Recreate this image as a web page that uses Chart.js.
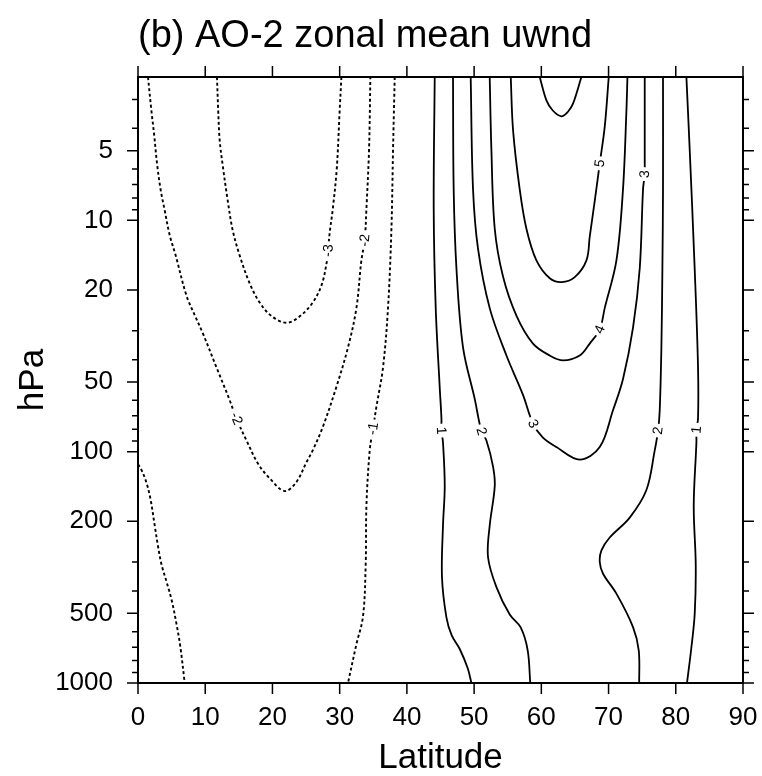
<!DOCTYPE html>
<html>
<head>
<meta charset="utf-8">
<title>AO-2 zonal mean uwnd</title>
<script src="https://cdn.jsdelivr.net/npm/chart.js@4.4.0/dist/chart.umd.min.js"></script>
<style>
  html, body { margin: 0; padding: 0; background: #ffffff; }
  #wrap { width: 762px; height: 776px; }
  canvas { display: block; }
</style>
</head>
<body>
<div id="wrap"><canvas id="chart" width="762" height="776"></canvas></div>
<script>
// Axis ticks
const latitudeTicks = [0, 10, 20, 30, 40, 50, 60, 70, 80, 90];
const pressureLabelTicks = [5, 10, 20, 50, 100, 200, 500, 1000];
const pressureMinorTicks = [3, 4, 6, 7, 8, 9, 30, 40, 60, 70, 80, 90, 300, 400, 600, 700, 800, 900];
const pressureTop = 2.4;
const pressureBottom = 1000;

// Contour lines of zonal-mean zonal wind, as [latitude, hPa] pairs
const uMinus3 = [[11.75,2.4],[11.93,3.35],[12.15,4.5],[12.6,5.78],[13.34,8.19],[14.09,11.05],[15.13,14.2],[16.62,18.75],[18.1,22.65],[19.89,25.96],[22.12,27.7],[24.06,26.0],[26.0,22.65],[27.33,18.95],[28.07,15.2],[28.27,13.5],[28.52,11.27],[28.97,8.96],[29.56,6.02],[30.0,3.35],[30.26,2.4]];
const uMinus2 = [[1.49,2.4],[1.99,3.35],[2.41,4.29],[2.86,5.78],[3.38,7.41],[3.97,9.05],[4.72,11.6],[5.61,14.2],[7.2,21.1],[8.44,25.7],[9.67,30.9],[11.66,43.1],[13.64,59.9],[14.64,71.9],[16.13,89.3],[17.85,112.6],[19.59,130.4],[21.82,148],[23.56,135.3],[25.05,111.2],[25.99,98.7],[27.52,77.8],[29.51,52.5],[31.24,35.4],[32.49,23.95],[33.23,14.9],[33.72,12.2],[33.98,8.93],[34.37,4.94],[34.57,2.4]];
const uMinus1 = [[38.19,2.4],[37.94,4.94],[37.7,10.87],[37.19,23.95],[36.45,43.2],[35.47,63.9],[34.96,79.5],[34.47,98.7],[33.98,171],[33.87,309],[33.47,516],[32.49,680],[31.24,1000]];
const uMinus1Tropics = [[0,113.4],[0.55,120.5],[1.29,137],[1.89,162],[2.48,208],[3.0,259],[3.53,310],[4.27,367],[5.01,439],[5.71,552],[6.31,701],[6.95,1000]];
const u1South = [[44.14,2.4],[43.99,8.93],[44.29,23.95],[44.88,52.5],[45.14,71.9],[45.14,81.1],[45.37,91.2],[45.63,140.7],[45.37,208.5],[45.22,348],[45.88,520],[46.67,623],[47.86,713],[49.05,864],[49.6,1000]];
const u2South = [[46.86,2.4],[46.96,7.33],[47.37,16.1],[48.35,35.4],[50.09,59.1],[51.09,81.6],[51.83,89.5],[52.81,115.8],[53.07,140.9],[52.32,208.5],[52.07,286],[53.32,385],[55.3,506],[56.93,575],[57.97,722],[58.35,1000]];
const u3 = [[49.49,2.4],[49.84,7.33],[50.58,13.24],[52.32,23.95],[54.81,38.4],[57.27,56.8],[58.76,75.6],[60.2,86.7],[62.24,95.5],[65.71,108.2],[68.69,95.5],[70.66,66.2],[72.15,48.5],[73.64,29.1],[74.64,16.1],[75.13,7.33],[75.38,6.31],[75.38,5.57],[75.38,2.4]];
const u4 = [[52.32,2.4],[52.57,4.94],[53.07,10.87],[54.3,17.5],[56.29,25.8],[58.76,34.1],[61.25,38.4],[63.23,40.3],[65.71,38.4],[67.2,34.1],[68.69,29.6],[69.43,23.95],[71.17,14.9],[72.15,7.33],[72.66,3.34],[72.81,2.4]];
const u5 = [[55.45,2.4],[55.79,4.06],[56.78,7.33],[57.78,10.87],[59.27,14.9],[61.25,17.8],[63.0,18.5],[64.97,17.6],[66.71,14.9],[67.2,11.77],[67.94,8.26],[68.69,5.67],[69.43,3.94],[70.03,2.4]];
const u6 = [[59.76,2.4],[60.76,3.03],[61.7,3.35],[63.0,3.55],[63.93,3.4],[64.71,3.13],[65.96,2.4]];
const u2North = [[78.1,2.4],[78.1,7.33],[78.01,16.1],[77.86,35.4],[77.61,66.5],[77.36,81.1],[76.87,98.7],[75.63,146.5],[73.15,192.8],[70.17,235],[68.94,267],[68.69,300],[69.18,337],[71.17,411],[73.64,573],[74.49,722],[74.56,1000]];
const u1North = [[81.58,2.4],[82.07,4.94],[82.81,16.1],[83.31,43.2],[83.31,71.9],[83.07,80.4],[83.07,91.2],[82.67,171],[82.97,309],[82.82,501],[82.33,699],[81.67,1000]];

// Contour labels: text, position [latitude, hPa] and the line they sit on
const contourLabels = [
  { text: '-3', lat: 28.27, p: 13.5, line: uMinus3 },
  { text: '-2', lat: 14.64, p: 71.9, line: uMinus2 },
  { text: '-2', lat: 33.72, p: 12.2, line: uMinus2 },
  { text: '-1', lat: 34.96, p: 79.5, line: uMinus1 },
  { text: '1',  lat: 45.14, p: 81.1, line: u1South },
  { text: '2',  lat: 51.09, p: 81.6, line: u2South },
  { text: '3',  lat: 58.76, p: 75.6, line: u3 },
  { text: '4',  lat: 68.69, p: 29.6, line: u4 },
  { text: '5',  lat: 68.69, p: 5.67, line: u5 },
  { text: '3',  lat: 75.38, p: 6.31, line: u3 },
  { text: '2',  lat: 77.36, p: 81.1, line: u2North },
  { text: '1',  lat: 83.07, p: 80.4, line: u1North }
];

const FONT = '"Liberation Sans", Arial, Helvetica, sans-serif';

const contourLines = [
  { level: -3, pts: uMinus3 },
  { level: -2, pts: uMinus2 },
  { level: -1, pts: uMinus1 },
  { level: -1, pts: uMinus1Tropics },
  { level: 1, pts: u1South },
  { level: 2, pts: u2South },
  { level: 3, pts: u3 },
  { level: 4, pts: u4 },
  { level: 5, pts: u5 },
  { level: 6, pts: u6 },
  { level: 2, pts: u2North },
  { level: 1, pts: u1North }
];

const datasets = contourLines.map(c => ({
  label: String(c.level),
  data: c.pts.map(([lat, p]) => ({ x: lat, y: p })),
  showLine: true,
  borderColor: '#000000',
  borderWidth: c.level < 0 ? 1.9 : 1.8,
  borderDash: c.level < 0 ? [3, 2.6] : [],
  pointRadius: 0,
  pointHoverRadius: 0,
  tension: 0.35,
  fill: false
}));

// Frame, outward tick marks, contour labels and titles
const framePlugin = {
  id: 'frameAndLabels',
  afterDatasetsDraw(chart) {
    const { ctx, chartArea: a, scales } = chart;
    const xs = scales.x, ys = scales.y;
    ctx.save();

    // contour labels with a blank gap behind them
    ctx.font = '14px ' + FONT;
    ctx.textAlign = 'center';
    ctx.textBaseline = 'middle';
    contourLabels.forEach(lb => {
      const px = xs.getPixelForValue(lb.lat);
      const py = ys.getPixelForValue(lb.p);
      const pts = lb.line.map(([la, pp]) => [xs.getPixelForValue(la), ys.getPixelForValue(pp)]);
      let idx = 0, best = Infinity;
      pts.forEach((q, i) => {
        const d = (q[0] - px) ** 2 + (q[1] - py) ** 2;
        if (d < best) { best = d; idx = i; }
      });
      const p0 = pts[Math.max(0, idx - 1)], p1 = pts[Math.min(pts.length - 1, idx + 1)];
      let ang = Math.atan2(p1[1] - p0[1], p1[0] - p0[0]);
      if (ang > Math.PI / 2) ang -= Math.PI;
      if (ang <= -Math.PI / 2) ang += Math.PI;
      const w = ctx.measureText(lb.text).width;
      ctx.save();
      ctx.translate(px, py);
      ctx.rotate(ang);
      ctx.fillStyle = '#ffffff';
      ctx.fillRect(-w / 2 - 3, -7, w + 6, 14);
      ctx.fillStyle = '#000000';
      ctx.fillText(lb.text, 0, 0.5);
      ctx.restore();
    });

    // frame
    ctx.strokeStyle = '#000000';
    ctx.lineWidth = 2;
    ctx.strokeRect(a.left, a.top, a.right - a.left, a.bottom - a.top);

    // ticks
    ctx.lineWidth = 1.5;
    ctx.beginPath();
    latitudeTicks.forEach(v => {
      const px = xs.getPixelForValue(v);
      ctx.moveTo(px, a.bottom); ctx.lineTo(px, a.bottom + 11);
      ctx.moveTo(px, a.top); ctx.lineTo(px, a.top - 11);
    });
    pressureLabelTicks.forEach(v => {
      const py = ys.getPixelForValue(v);
      ctx.moveTo(a.left, py); ctx.lineTo(a.left - 11, py);
      ctx.moveTo(a.right, py); ctx.lineTo(a.right + 11, py);
    });
    pressureMinorTicks.forEach(v => {
      const py = ys.getPixelForValue(v);
      ctx.moveTo(a.left, py); ctx.lineTo(a.left - 6, py);
      ctx.moveTo(a.right, py); ctx.lineTo(a.right + 6, py);
    });
    ctx.stroke();
    ctx.restore();
  },
  afterDraw(chart) {
    const { ctx, chartArea: a } = chart;
    ctx.save();
    ctx.fillStyle = '#000000';
    ctx.textBaseline = 'alphabetic';
    // plot title
    ctx.font = '38px ' + FONT;
    ctx.textAlign = 'left';
    ctx.fillText('(b) AO-2 zonal mean uwnd', a.left, 47);
    // axis titles
    ctx.font = '35px ' + FONT;
    ctx.textAlign = 'center';
    ctx.fillText('Latitude', (a.left + a.right) / 2, 768);
    ctx.translate(43, (a.top + a.bottom) / 2);
    ctx.rotate(-Math.PI / 2);
    ctx.fillText('hPa', 0, 0);
    ctx.restore();
  }
};

new Chart(document.getElementById('chart'), {
  type: 'scatter',
  data: { datasets },
  options: {
    responsive: false,
    animation: false,
    events: [],
    layout: { padding: { top: 77, right: 19, left: 0, bottom: 0 } },
    plugins: {
      legend: { display: false },
      tooltip: { enabled: false },
      title: { display: false }
    },
    scales: {
      x: {
        type: 'linear',
        min: 0,
        max: 90,
        afterBuildTicks: s => { s.ticks = latitudeTicks.map(v => ({ value: v })); },
        afterFit: s => { s.height = 93; s.paddingLeft = 0; s.paddingRight = 0; },
        ticks: {
          font: { size: 26, family: FONT },
          color: '#000000',
          padding: 19,
          maxRotation: 0,
          autoSkip: false,
          callback: v => String(v)
        },
        grid: { display: false, drawTicks: false },
        border: { display: false }
      },
      y: {
        type: 'logarithmic',
        reverse: true,
        bounds: 'data',
        min: pressureTop,
        max: pressureBottom,
        afterBuildTicks: s => { s.ticks = pressureLabelTicks.map(v => ({ value: v })); },
        afterFit: s => { s.width = 138; s.paddingTop = 0; s.paddingBottom = 0; },
        ticks: {
          font: { size: 26, family: FONT },
          color: '#000000',
          padding: 25,
          autoSkip: false,
          callback: v => String(v)
        },
        grid: { display: false, drawTicks: false },
        border: { display: false }
      }
    }
  },
  plugins: [framePlugin]
});
</script>
</body>
</html>
